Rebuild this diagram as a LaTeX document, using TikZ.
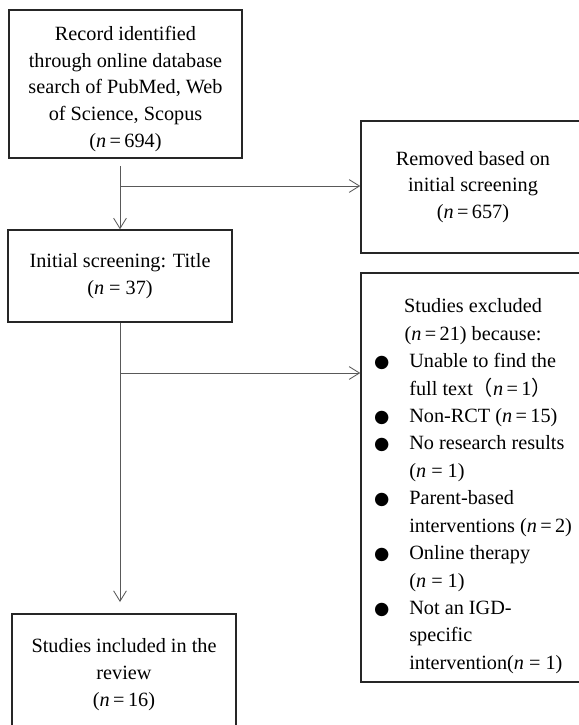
\documentclass[tikz,border=0pt]{standalone}
\usepackage{fontspec}
\setmainfont{Liberation Serif}
\newfontfamily\symfont{DejaVu Sans}
\newfontfamily\cjkfont{Noto Sans CJK SC}
\usepackage{tikz}
\usetikzlibrary{arrows.meta,positioning,calc}
\tikzset{
  flowbox/.style={draw=black!85, line width=1pt, minimum width=5.6cm,
                  font=\fontsize{14.4pt}{19pt}\selectfont, align=center,
                  inner sep=2pt},
  flowarrow/.style={-{Straight Barb[length=2.6mm,width=3.2mm]},
                    draw=black!65, line width=0.6pt}
}
\newcommand{\nn}{\textit{n}}
\newcommand{\bul}{{\symfont\fontsize{12.5pt}{12.5pt}\selectfont ●}}

\begin{document}
\begin{tikzpicture}[
      listbox/.style={draw=black!85, line width=1pt, minimum width=5.6cm,
                      font=\fontsize{14.4pt}{19.5pt}\selectfont, inner sep=0pt}
    ]
    \def\xL{3.0} \def\xR{11.825}
    \clip (0,0) rectangle (14.475,-18.125);

    % Left column
    \node[flowbox, minimum width=5.825cm, minimum height=3.7cm] (rec) at (3.1375,-2.1)
      {\rule{0pt}{17pt}Record identified\\through online database\\search of PubMed, Web\\of Science, Scopus\\(\nn\,=\,694)};
    \node[flowbox, minimum height=2.3cm] (init) at (\xL,-6.9)
      {Initial screening: Title\\(\nn{} = 37)};
    \node[flowbox, minimum height=2.9cm] (incl) at (3.1,-16.8)
      {\rule{0pt}{14pt}Studies included in the\\review\\(\nn\,=\,16)};

    % Right column
    \node[flowbox, minimum height=3.3cm] (rem) at (\xR,-4.675)
      {Removed based on\\initial screening\\(\nn\,=\,657)};
    \node[listbox, minimum height=10.225cm] (excl) at (\xR,-11.94){%
      \begin{tabular}{@{}l@{\hspace{0.5cm}}l@{}}
        \noalign{\vskip 0.4cm}
        \multicolumn{2}{c}{Studies excluded}\\
        \multicolumn{2}{c}{(\nn\,=\,21) because:}\\
        \bul & Unable to find the\\
             & full text{\cjkfont （}\nn\,=\,1{\cjkfont ）}\\
        \bul & Non-RCT (\nn\,=\,15)\\
        \bul & No research results\\
             & (\nn{} = 1)\\
        \bul & Parent-based\\
             & interventions (\nn\,=\,2)\\
        \bul & Online therapy\\
             & (\nn{} = 1)\\
        \bul & Not an IGD-\\
             & specific\\
             & intervention(\nn{} = 1)
      \end{tabular}};

    % Connectors
    \coordinate (s1) at (\xL,-4.15);
    \coordinate (b1) at (\xL,-4.65);
    \coordinate (b2) at (\xL,-9.325);
    \coordinate (e2) at (\xL,-15.05);
    \draw[flowarrow] (s1) -- (init.north);
    \draw[flowarrow] (b1) -- (b1 -| rem.west);
    \draw[flowarrow] (init.south) -- (e2);
    \draw[flowarrow] (b2) -- (b2 -| excl.west);
  \end{tikzpicture}
\end{document}
